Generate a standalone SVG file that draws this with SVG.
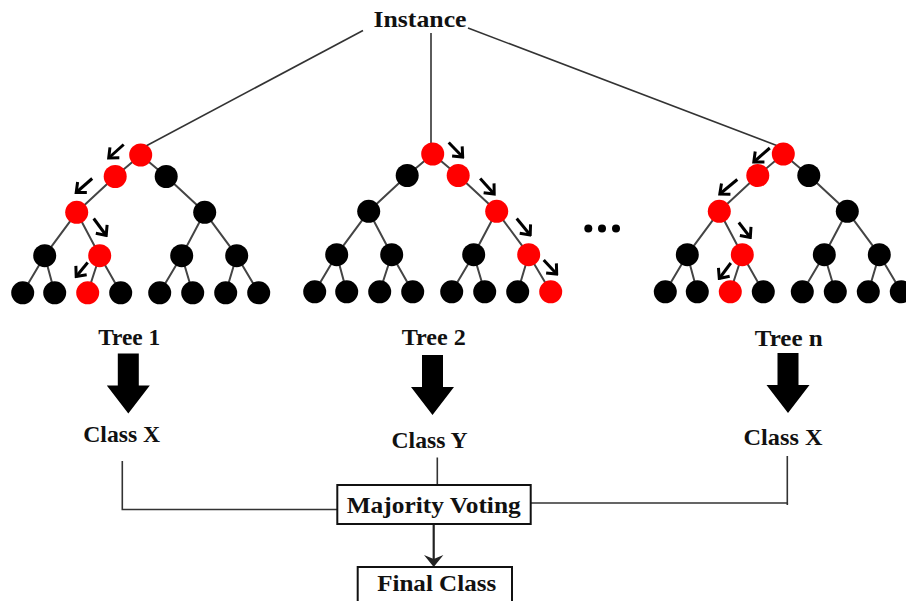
<svg xmlns="http://www.w3.org/2000/svg" xmlns:xlink="http://www.w3.org/1999/xlink" width="906" height="601" viewBox="0 0 906 601">
  <style>
    .lbl { font-family: "Liberation Serif", "Times New Roman", serif; font-weight: bold; font-size: 24px; fill: #111; text-anchor: middle; }
    .edge { stroke: #444; stroke-width: 2; fill: none; }
    .blk { fill: #000; }
    .red { fill: #f00; }
    .hint { stroke: #000; stroke-width: 3; fill: none; marker-end: url(#chev); }
    .wire { stroke: #333; stroke-width: 1.6; fill: none; }
    .box { fill: #fff; stroke: #111; stroke-width: 2; }
  </style>
  <defs>
    <marker id="chev" viewBox="-11 -9 13 18" markerWidth="13" markerHeight="18" refX="0" refY="0" orient="auto" markerUnits="userSpaceOnUse">
      <path d="M-8,-7 L0,0 L-8,7" fill="none" stroke="#000" stroke-width="3"/>
    </marker>
    <!-- branch skeleton shared by every tree, root at (0,0) -->
    <g id="branches" class="edge">
      <path d="M0,0 L-25.5,21.5 M0,0 L25.5,21.5"/>
      <path d="M-25.5,21.5 L-64,57.3 M25.5,21.5 L64,57.3"/>
      <path d="M-64,57.3 L-96,100.7 M-64,57.3 L-41,100.7 M64,57.3 L41,100.7 M64,57.3 L96,100.7"/>
      <path d="M-96,100.7 L-118,137.8 M-96,100.7 L-86,137.8 M-41,100.7 L-53,137.8 M-41,100.7 L-20,137.8"/>
      <path d="M41,100.7 L19,137.8 M41,100.7 L52,137.8 M96,100.7 L85,137.8 M96,100.7 L118,137.8"/>
    </g>
    <polygon id="bigArrow" points="-10.5,0 10.5,0 10.5,32 21.5,32 0,60 -21.5,32 -10.5,32" fill="#000"/>
  </defs>

  <!-- instance feeding the trees -->
  <g id="connectors">
    <path class="wire" d="M363,30.5 L146,146" stroke-width="1.3"/>
    <path class="wire" d="M431,33 L431,150" stroke-width="1.3"/>
    <path class="wire" d="M468,28 L778,146" stroke-width="1.3"/>
    <!-- class outputs into the vote -->
    <path class="wire" d="M122.3,461 L122.3,509.5 L337.3,509.5"/>
    <path class="wire" d="M437.3,457.5 L437.3,485"/>
    <path class="wire" d="M787.3,456 L787.3,503 L530.7,503"/>
    <path class="wire" d="M787.3,503 L787.3,505"/>
    <!-- vote to final class -->
    <path d="M433.7,524 L433.7,560" stroke="#222" stroke-width="2.2"/>
    <path d="M424,555 L433.7,567 L443.4,555 L433.7,559 Z" fill="#222"/>
  </g>

  <g id="instance">
    <text class="lbl" x="420" y="26.5" textLength="93" lengthAdjust="spacingAndGlyphs">Instance</text>
  </g>

  <!-- Tree 1 -->
  <g id="tree1" transform="translate(140.7,155)">
    <use xlink:href="#branches"/>
    <circle class="red" cx="0" cy="0" r="11.5"/>
    <circle class="red" cx="-25.5" cy="21.5" r="11.5"/>
    <circle class="blk" cx="25.5" cy="21.5" r="11.5"/>
    <circle class="red" cx="-64" cy="57.3" r="11.5"/>
    <circle class="blk" cx="64" cy="57.3" r="11.5"/>
    <circle class="blk" cx="-96" cy="100.7" r="11.5"/>
    <circle class="red" cx="-41" cy="100.7" r="11.5"/>
    <circle class="blk" cx="41" cy="100.7" r="11.5"/>
    <circle class="blk" cx="96" cy="100.7" r="11.5"/>
    <circle class="blk" cx="-118" cy="137.8" r="11.5"/>
    <circle class="blk" cx="-86" cy="137.8" r="11.5"/>
    <circle class="red" cx="-53" cy="137.8" r="11.5"/>
    <circle class="blk" cx="-20" cy="137.8" r="11.5"/>
    <circle class="blk" cx="19" cy="137.8" r="11.5"/>
    <circle class="blk" cx="52" cy="137.8" r="11.5"/>
    <circle class="blk" cx="85" cy="137.8" r="11.5"/>
    <circle class="blk" cx="118" cy="137.8" r="11.5"/>
    <path class="hint" d="M-17,-10.5 L-32,3"/>
    <path class="hint" d="M-48.5,23.5 L-64.5,37.5"/>
    <path class="hint" d="M-47,63.5 L-34.5,80.5"/>
    <path class="hint" d="M-53,107.5 L-64.5,121.5"/>
  </g>

  <!-- Tree 2 -->
  <g id="tree2" transform="translate(432.7,154)">
    <use xlink:href="#branches"/>
    <circle class="red" cx="0" cy="0" r="11.5"/>
    <circle class="blk" cx="-25.5" cy="21.5" r="11.5"/>
    <circle class="red" cx="25.5" cy="21.5" r="11.5"/>
    <circle class="blk" cx="-64" cy="57.3" r="11.5"/>
    <circle class="red" cx="64" cy="57.3" r="11.5"/>
    <circle class="blk" cx="-96" cy="100.7" r="11.5"/>
    <circle class="blk" cx="-41" cy="100.7" r="11.5"/>
    <circle class="blk" cx="41" cy="100.7" r="11.5"/>
    <circle class="red" cx="96" cy="100.7" r="11.5"/>
    <circle class="blk" cx="-118" cy="137.8" r="11.5"/>
    <circle class="blk" cx="-86" cy="137.8" r="11.5"/>
    <circle class="blk" cx="-53" cy="137.8" r="11.5"/>
    <circle class="blk" cx="-20" cy="137.8" r="11.5"/>
    <circle class="blk" cx="19" cy="137.8" r="11.5"/>
    <circle class="blk" cx="52" cy="137.8" r="11.5"/>
    <circle class="blk" cx="85" cy="137.8" r="11.5"/>
    <circle class="red" cx="118" cy="137.8" r="11.5"/>
    <path class="hint" d="M16,-11.5 L30,3"/>
    <path class="hint" d="M47.5,24.5 L61.5,40"/>
    <path class="hint" d="M84,64.5 L97.5,81"/>
    <path class="hint" d="M111,106 L124,120"/>
  </g>

  <!-- ellipsis between trees -->
  <g id="ellipsis">
    <circle cx="588.3" cy="228.5" r="4" fill="#000"/>
    <circle cx="602" cy="228.5" r="4" fill="#000"/>
    <circle cx="616" cy="228.5" r="4" fill="#000"/>
  </g>

  <!-- Tree n -->
  <g id="treeN" transform="translate(783.3,154)">
    <use xlink:href="#branches"/>
    <circle class="red" cx="0" cy="0" r="11.5"/>
    <circle class="red" cx="-25.5" cy="21.5" r="11.5"/>
    <circle class="blk" cx="25.5" cy="21.5" r="11.5"/>
    <circle class="red" cx="-64" cy="57.3" r="11.5"/>
    <circle class="blk" cx="64" cy="57.3" r="11.5"/>
    <circle class="blk" cx="-96" cy="100.7" r="11.5"/>
    <circle class="red" cx="-41" cy="100.7" r="11.5"/>
    <circle class="blk" cx="41" cy="100.7" r="11.5"/>
    <circle class="blk" cx="96" cy="100.7" r="11.5"/>
    <circle class="blk" cx="-118" cy="137.8" r="11.5"/>
    <circle class="blk" cx="-86" cy="137.8" r="11.5"/>
    <circle class="red" cx="-53" cy="137.8" r="11.5"/>
    <circle class="blk" cx="-20" cy="137.8" r="11.5"/>
    <circle class="blk" cx="19" cy="137.8" r="11.5"/>
    <circle class="blk" cx="52" cy="137.8" r="11.5"/>
    <circle class="blk" cx="85" cy="137.8" r="11.5"/>
    <circle class="blk" cx="118" cy="137.8" r="11.5"/>
    <path class="hint" d="M-13.5,-6 L-29.5,8"/>
    <path class="hint" d="M-46,25.5 L-63.5,40"/>
    <path class="hint" d="M-44.5,68.5 L-33,83.5"/>
    <path class="hint" d="M-52.5,109 L-64,124.5"/>
  </g>

  <!-- tree labels, verdict arrows and classes -->
  <g id="result1">
    <text class="lbl" x="129.2" y="345" textLength="62" lengthAdjust="spacingAndGlyphs">Tree 1</text>
    <use xlink:href="#bigArrow" transform="translate(128.3,353.5)"/>
    <text class="lbl" x="121.7" y="441.7" textLength="77" lengthAdjust="spacingAndGlyphs">Class X</text>
  </g>
  <g id="result2">
    <text class="lbl" x="433.8" y="345" textLength="64" lengthAdjust="spacingAndGlyphs">Tree 2</text>
    <use xlink:href="#bigArrow" transform="translate(432.5,355)"/>
    <text class="lbl" x="429.5" y="448.3" textLength="76" lengthAdjust="spacingAndGlyphs">Class Y</text>
  </g>
  <g id="resultN">
    <text class="lbl" x="788.8" y="346" textLength="68" lengthAdjust="spacingAndGlyphs">Tree n</text>
    <use xlink:href="#bigArrow" transform="translate(788,353)"/>
    <text class="lbl" x="783" y="445" textLength="79" lengthAdjust="spacingAndGlyphs">Class X</text>
  </g>

  <g id="voting">
    <rect class="box" x="337.3" y="485" width="193.4" height="39"/>
    <text class="lbl" x="433.7" y="513" textLength="174" lengthAdjust="spacingAndGlyphs">Majority Voting</text>
  </g>
  <g id="final">
    <rect class="box" x="357.7" y="567" width="154.3" height="36"/>
    <text class="lbl" x="436.7" y="590.5" textLength="119" lengthAdjust="spacingAndGlyphs">Final Class</text>
  </g>
</svg>
